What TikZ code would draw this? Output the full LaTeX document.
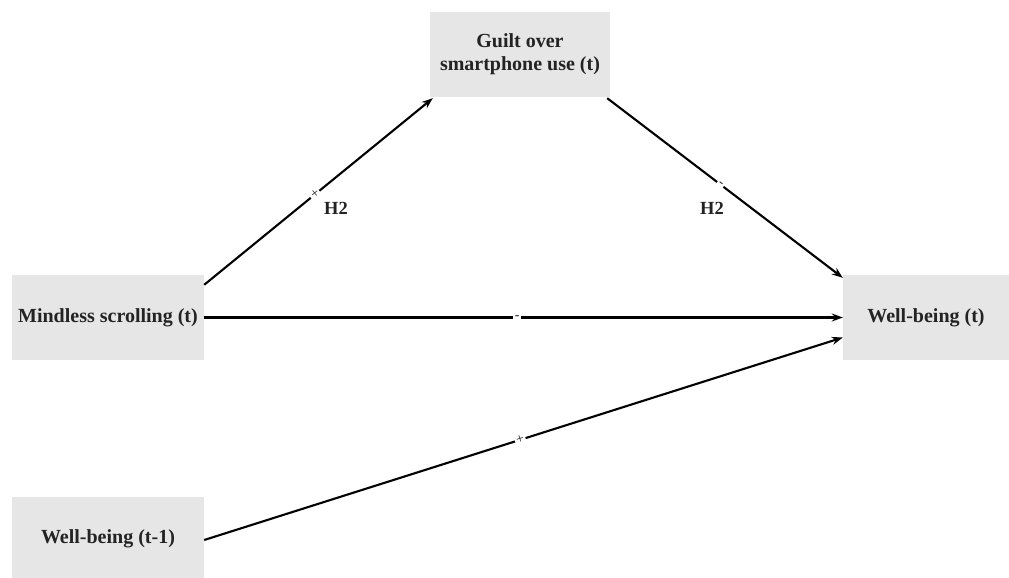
\documentclass[tikz,border=0pt]{standalone}
\usepackage{fontspec}
\setmainfont{Liberation Serif}
\usetikzlibrary{arrows.meta}
\definecolor{boxgray}{RGB}{230,230,230}
\definecolor{inkgray}{RGB}{35,35,35}
\tikzset{
  varbox/.style={fill=boxgray, draw=none, minimum width=#1, minimum height=85pt,
    align=center, font=\fontsize{20}{23}\selectfont\bfseries, text=inkgray, inner sep=0pt},
  path/.style={line width=2.1pt, -{Stealth[length=11pt,width=8pt]}},
  sign/.style={fill=white, font=\fontsize{14}{14}\selectfont, text=inkgray, inner sep=1.5pt, sloped},
  hyp/.style={font=\fontsize{18.5}{20}\selectfont\bfseries, text=inkgray}
}
\begin{document}
\begin{tikzpicture}[x=1pt, y=-1pt]
  \useasboundingbox (0,0) rectangle (1009,578);

  % variables
  \node[varbox=192pt] (ms) at (108,317.5) {Mindless scrolling (t)};
  \node[varbox=180pt] (gu) at (520,54.5) {Guilt over\\smartphone use (t)};
  \node[varbox=166pt] (wb) at (926,317.5) {Well-being (t)};
  \node[varbox=192pt] (wp) at (108,539) {Well-being (t-1)};

  % paths
  \draw[path] ([yshift=-10pt]ms.north east) -- node[sign, pos=0.485] {+} ([xshift=3pt,yshift=-1pt]gu.south west);
  \draw[path] ([xshift=-3pt,yshift=-1pt]gu.south east) -- node[sign, pos=0.48] {-} ([yshift=-3pt]wb.north west);
  \draw[path] (ms.east) -- node[sign, pos=0.49] {-} (wb.west);
  \draw[path] ([yshift=-1pt]wp.east) -- node[sign, pos=0.495] {+} ([yshift=-20pt]wb.west);

  % hypothesis labels
  \node[hyp] (h2a) at (336,208) {H2};
  \node[hyp] (h2b) at (712,208) {H2};
\end{tikzpicture}
\end{document}
